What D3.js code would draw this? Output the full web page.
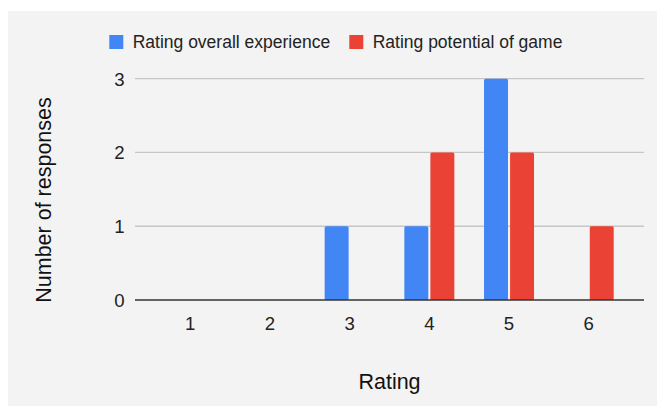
<!DOCTYPE html>
<html><head><meta charset="utf-8">
<script src="https://cdn.jsdelivr.net/npm/d3@7"></script>
<style>html,body{margin:0;padding:0;background:#fff;}svg{display:block;font-family:"Liberation Sans",Arial,sans-serif;}</style>
</head><body>
<svg id="c" width="657" height="407"></svg>
<script>
const categories = ["1","2","3","4","5","6"];
const seriesNames = ["Rating overall experience","Rating potential of game"];
const overallExperience = [0,0,1,1,3,0];
const potentialOfGame = [0,0,0,2,2,1];
const yTicks = [0,1,2,3];
const colors = ["#4285f4","#ea4335"];
const xTitle = "Rating";
const yTitle = "Number of responses";

const values = [overallExperience, potentialOfGame];
const svg = d3.select("#c");
svg.append("rect").attr("x",8).attr("y",11).attr("width",649).attr("height",395).attr("fill","#f3f3f3");

const pLeft=135, pRight=644, pTop=78.7, pBottom=300;
const x0 = d3.scaleBand().domain(categories).range([pLeft,pRight]).paddingInner(0.3726).paddingOuter(0.38);
const x1 = d3.scaleBand().domain(seriesNames).range([0,x0.bandwidth()]).paddingInner(0.08);
const y = d3.scaleLinear().domain([0,3]).range([pBottom,pTop]);

// gridlines
svg.append("g").selectAll("line").data(yTicks.filter(t=>t>0)).join("line")
  .attr("x1",pLeft).attr("x2",pRight).attr("y1",d=>y(d)).attr("y2",d=>y(d))
  .attr("stroke","#c6c6c6").attr("stroke-width",1.3);

// y labels
svg.append("g").selectAll("text").data(yTicks).join("text")
  .attr("x",124.5).attr("y",d=>y(d)+6.8).attr("text-anchor","end")
  .attr("font-size",18.6).attr("fill","#222").text(d=>d);

// x labels
svg.append("g").selectAll("text").data(categories).join("text")
  .attr("x",d=>x0(d)+x0.bandwidth()/2).attr("y",330).attr("text-anchor","middle")
  .attr("font-size",18.6).attr("fill","#222").text(d=>d);

// bars
const groups = svg.append("g").selectAll("g").data(categories).join("g")
  .attr("transform",d=>`translate(${x0(d)},0)`);
groups.selectAll("rect").data((d,i)=>seriesNames.map((s,j)=>({s,j,v:values[j][i]})).filter(e=>e.v>0)).join("rect")
  .attr("x",e=>x1(e.s)).attr("width",x1.bandwidth())
  .attr("y",e=>y(e.v)).attr("height",e=>y(0)-y(e.v))
  .attr("rx",1.5).attr("fill",e=>colors[e.j]);

// baseline
svg.append("line").attr("x1",pLeft).attr("x2",pRight).attr("y1",y(0)).attr("y2",y(0))
  .attr("stroke","#333").attr("stroke-width",1.6);

// legend
const legX = [109.3, 349.3];
const leg = svg.append("g").selectAll("g").data(seriesNames).join("g")
  .attr("transform",(d,i)=>`translate(${legX[i]},35)`);
leg.append("rect").attr("width",14).attr("height",14).attr("fill",(d,i)=>colors[i]);
leg.append("text").attr("x",23.4).attr("y",13.3).attr("font-size",17.5).attr("fill","#222").text(d=>d);

// axis titles
svg.append("text").attr("x",(pLeft+pRight)/2).attr("y",389.3).attr("text-anchor","middle")
  .attr("font-size",21.5).attr("fill","#111").text(xTitle);
svg.append("text").attr("transform","translate(50.5,200) rotate(-90)").attr("text-anchor","middle")
  .attr("font-size",21.5).attr("fill","#111").text(yTitle);
</script>
</body></html>
